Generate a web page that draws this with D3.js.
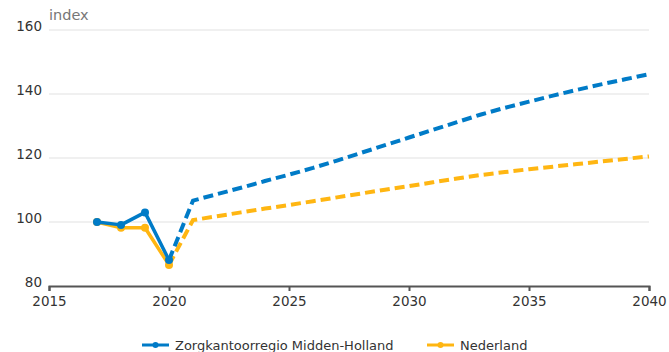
<!DOCTYPE html>
<html>
<head>
<meta charset="utf-8">
<script src="https://cdn.jsdelivr.net/npm/d3@7"></script>
<style>
  body { margin: 0; background: #fff; }
  svg { font-family: "DejaVu Sans", Verdana, sans-serif; }
</style>
</head>
<body>
<svg id="chartSVG" width="669" height="352"></svg>
<script>
/* ---------- Data ---------- */
const years = [2017, 2018, 2019, 2020, 2021, 2022, 2023, 2024, 2025, 2026, 2027, 2028,
               2029, 2030, 2031, 2032, 2033, 2034, 2035, 2036, 2037, 2038, 2039, 2040];
const regioValues = [100, 99.1, 103.0, 88.1, 106.7, 108.7, 110.7, 112.8, 114.8, 116.9, 119.2, 121.6,
                     124.0, 126.4, 128.8, 131.2, 133.6, 135.7, 137.6, 139.5, 141.3, 143.0, 144.6, 146.2];
const nederlandValues = [100, 98.2, 98.2, 86.6, 100.6, 101.8, 103.0, 104.2, 105.3, 106.5, 107.7, 108.9,
                         110.1, 111.2, 112.4, 113.6, 114.7, 115.6, 116.5, 117.3, 118.1, 118.9, 119.7, 120.5];
const lastObservedYear = 2020;
const seriesNames = ["Zorgkantoorregio Midden-Holland", "Nederland"];
const xTicks = [2015, 2020, 2025, 2030, 2035, 2040];
const yTicks = [80, 100, 120, 140, 160];
const yLabel = "index";

const colours = ["#007bc7", "#ffb612"];

/* ---------- Layout ---------- */
const plotLeft = 49, plotRight = 649, plotTop = 30, plotBottom = 286;
var svg = d3.select("#chartSVG");

var x = d3.scaleLinear().domain([2015, 2040]).range([plotLeft, plotRight]);
var y = d3.scaleLinear().domain([80, 160]).range([plotBottom, plotTop]);

// gridlines (no line at 80, the axis sits there)
svg.append("g").selectAll("line")
    .data(yTicks.filter(d => d > 80))
    .enter().append("line")
    .attr("x1", plotLeft).attr("x2", plotRight)
    .attr("y1", d => y(d)).attr("y2", d => y(d))
    .attr("stroke", "#e1e1e1").attr("stroke-width", 1);

// y labels sit on their gridline
svg.append("g").selectAll("text")
    .data(yTicks)
    .enter().append("text")
    .attr("x", 42).attr("y", d => y(d) + 0.5)
    .attr("text-anchor", "end")
    .attr("font-size", 13.5)
    .attr("fill", "#333")
    .text(d => d);

svg.append("text")
    .attr("x", 49).attr("y", 20)
    .attr("font-size", 14.5)
    .attr("fill", "#777")
    .text(yLabel);

// x axis
var xAxis = d3.axisBottom(x).tickValues(xTicks).tickFormat(d3.format("d")).tickSize(5).tickSizeOuter(5);
var xg = svg.append("g")
    .attr("transform", "translate(0," + plotBottom + ")")
    .call(xAxis);
xg.select(".domain").attr("stroke", "#555").attr("stroke-width", 2);
xg.selectAll(".tick line").attr("stroke", "#555").attr("stroke-width", 2);
xg.selectAll(".tick text")
    .attr("font-family", "DejaVu Sans, Verdana, sans-serif")
    .attr("font-size", 13.5).attr("fill", "#333").attr("dy", "0.9em");

/* ---------- Lines ---------- */
var line = d3.line().x(d => x(d.year)).y(d => y(d.value));

[nederlandValues, regioValues].forEach((vals, k) => {
    var colour = k === 0 ? colours[1] : colours[0];
    var pts = years.map((yr, i) => ({ year: yr, value: vals[i] }));
    var observed = pts.filter(d => d.year <= lastObservedYear);
    var projected = pts.filter(d => d.year >= lastObservedYear);
    var g = svg.append("g");
    g.append("path")
        .attr("d", line(observed))
        .attr("fill", "none").attr("stroke", colour)
        .attr("stroke-width", 3.5).attr("stroke-linejoin", "round");
    g.append("path")
        .attr("d", line(projected))
        .attr("fill", "none").attr("stroke", colour)
        .attr("stroke-width", 4).attr("stroke-dasharray", "10,5");
    g.selectAll("circle")
        .data(observed)
        .enter().append("circle")
        .attr("cx", d => x(d.year)).attr("cy", d => y(d.value))
        .attr("r", 4).attr("fill", colour);
});

/* ---------- Legend ---------- */
var legendItems = [
    { name: seriesNames[0], colour: colours[0], x: 142 },
    { name: seriesNames[1], colour: colours[1], x: 427 }
];
legendItems.forEach(item => {
    var g = svg.append("g").attr("transform", "translate(" + item.x + ",345)");
    g.append("line").attr("x1", 0).attr("x2", 27).attr("y1", 0).attr("y2", 0)
        .attr("stroke", item.colour).attr("stroke-width", 3);
    g.append("circle").attr("cx", 13.5).attr("cy", 0).attr("r", 3).attr("fill", item.colour);
    g.append("text").attr("x", 33).attr("y", 4.5)
        .attr("font-size", 13).attr("fill", "#333")
        .text(item.name);
});
</script>
</body>
</html>
